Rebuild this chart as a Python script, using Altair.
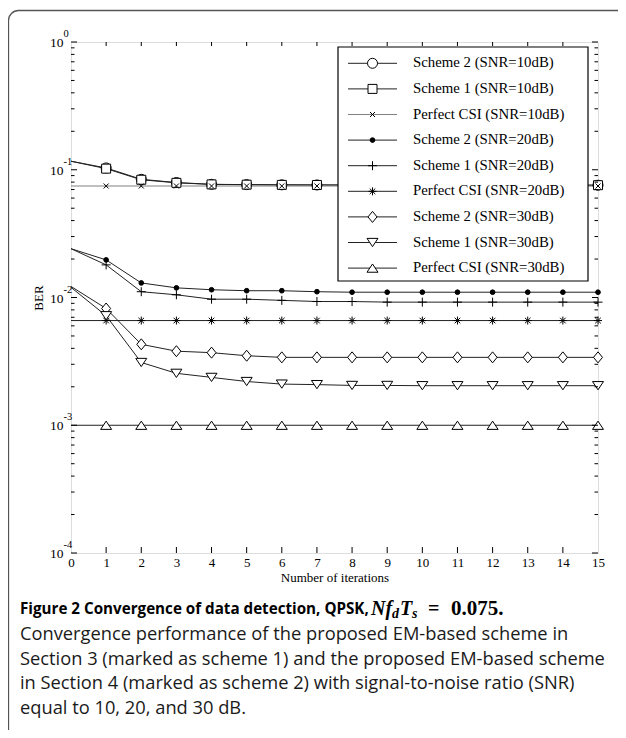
import json
import altair as alt
import pandas as pd

# ---------------- data ----------------
iterations = list(range(16))

series_names = [
    "Scheme 2 (SNR=10dB)", "Scheme 1 (SNR=10dB)", "Perfect CSI (SNR=10dB)",
    "Scheme 2 (SNR=20dB)", "Scheme 1 (SNR=20dB)", "Perfect CSI (SNR=20dB)",
    "Scheme 2 (SNR=30dB)", "Scheme 1 (SNR=30dB)", "Perfect CSI (SNR=30dB)",
]

ber_s2_10 = [0.1166, 0.1033, 0.0842, 0.0794, 0.0769, 0.0765, 0.0762, 0.0760,
             0.0759, 0.0758, 0.0758, 0.0757, 0.0757, 0.0757, 0.0757, 0.0757]
ber_s1_10 = [0.1166, 0.1020, 0.0835, 0.0790, 0.0768, 0.0764, 0.0761, 0.0760,
             0.0759, 0.0758, 0.0758, 0.0757, 0.0757, 0.0757, 0.0757, 0.0757]
ber_csi_10 = [0.0746, 0.0746, 0.0746, 0.0746, 0.0746, 0.0746, 0.0746, 0.0746,
              0.0746, 0.0746, 0.0746, 0.0746, 0.0746, 0.0746, 0.0746, 0.0746]
ber_s2_20 = [0.0241, 0.0197, 0.0130, 0.0119, 0.0115, 0.0113, 0.0113, 0.0111,
             0.0110, 0.0110, 0.0110, 0.0110, 0.0110, 0.0110, 0.0110, 0.0110]
ber_s1_20 = [0.0241, 0.0180, 0.0111, 0.0105, 0.0097, 0.0097, 0.0095, 0.0093,
             0.0093, 0.0092, 0.0092, 0.0092, 0.0092, 0.0092, 0.0092, 0.0092]
ber_csi_20 = [0.0066, 0.0066, 0.0066, 0.0066, 0.0066, 0.0066, 0.0066, 0.0066,
              0.0066, 0.0066, 0.0066, 0.0066, 0.0066, 0.0066, 0.0066, 0.0066]
ber_s2_30 = [0.0122, 0.0082, 0.0043, 0.0038, 0.0037, 0.0035, 0.0034, 0.0034,
             0.0034, 0.0034, 0.0034, 0.0034, 0.0034, 0.0034, 0.0034, 0.0034]
ber_s1_30 = [0.0120, 0.0072, 0.0031, 0.00255, 0.00237, 0.0022, 0.0021, 0.00208,
             0.00205, 0.00205, 0.00204, 0.00204, 0.00204, 0.00204, 0.00204, 0.00204]
ber_csi_30 = [0.0010, 0.0010, 0.0010, 0.0010, 0.0010, 0.0010, 0.0010, 0.0010,
              0.0010, 0.0010, 0.0010, 0.0010, 0.0010, 0.0010, 0.0010, 0.0010]

all_series = [ber_s2_10, ber_s1_10, ber_csi_10, ber_s2_20, ber_s1_20, ber_csi_20,
              ber_s2_30, ber_s1_30, ber_csi_30]

x_tick_values = list(range(1, 15))
y_major_values = [1.0, 0.1, 0.01, 0.001, 0.0001]
y_major_exps = ["0", "-1", "-2", "-3", "-4"]
y_minor_values = [m * 10.0 ** k for k in range(-4, 0) for m in range(2, 10)]

caption_title = "Figure 2 Convergence of data detection, QPSK, "
caption_lines = [
    "Convergence performance of the proposed EM-based scheme in",
    "Section 3 (marked as scheme 1) and the proposed EM-based scheme",
    "in Section 4 (marked as scheme 2) with signal-to-noise ratio (SNR)",
    "equal to 10, 20, and 30 dB.",
]

# ---------------- styles ----------------
SERIF = "Liberation Serif"
SANS = "Open Sans"
W, H = 527, 511

line_colors = ["#222", "#222", "#808080", "#222", "#222", "#222", "#222", "#222", "#222"]
shape_paths = [
    "circle", "square", "M-1,-1L1,1M1,-1L-1,1",
    "circle", "M-1,0H1M0,-1V1",
    "M-1,0H1M0,-1V1M-0.7,-0.7L0.7,0.7M0.7,-0.7L-0.7,0.7",
    "M0,-1.1L0.9,0L0,1.1L-0.9,0Z",
    "M-1,-0.75L1,-0.75L0,0.75Z",
    "M-1,0.75L1,0.75L0,-0.75Z",
]
shape_fills = ["white", "white", "white", "black", "white", "white", "white", "white", "white"]
shape_sizes = [100, 81, 25, 22, 81, 64, 100, 121, 121]
size_expr = "%s[indexof(%s, datum.series)]" % (json.dumps(shape_sizes), json.dumps(series_names))

rows = []
for name, vals in zip(series_names, all_series):
    for it, v in zip(iterations, vals):
        rows.append({"series": name, "iter": it, "ber": v})
df = pd.DataFrame(rows)

xs = alt.Scale(domain=[0, 15], nice=False, zero=False)
ys = alt.Scale(type="log", domain=[1e-4, 1], nice=False)
color_scale = alt.Scale(domain=series_names, range=line_colors)
shape_scale = alt.Scale(domain=series_names, range=shape_paths)
fill_scale = alt.Scale(domain=series_names, range=shape_fills)

X_AXIS = alt.Axis(values=iterations, tickCount=16, ticks=False, domain=False, grid=False,
                  labelFont=SERIF, labelFontSize=13, labelColor="black",
                  labelPadding=3, labelOverlap=False, labelFlush=False,
                  format="d", title="Number of iterations",
                  titleFont=SERIF, titleFontSize=13, titleFontWeight="normal",
                  titleColor="black", titlePadding=2)
Y_AXIS = alt.Axis(labels=False, ticks=False, domain=False, grid=False,
                  title="BER", titleFont=SERIF, titleFontSize=13,
                  titleFontWeight="normal", titleColor="black", titlePadding=26)


def X(field):
    return alt.X(field, scale=xs, axis=X_AXIS, title="Number of iterations")


def Y(field):
    return alt.Y(field, scale=ys, axis=Y_AXIS, title="BER")


one = pd.DataFrame({"a": [0]})

# frame around the whole figure
frame = alt.Chart(one).mark_rect(fill=None, stroke="#555", strokeWidth=1.3, cornerRadius=10).encode(
    x=alt.value(-62.5), x2=alt.value(700), y=alt.value(-31.5), y2=alt.value(900)
)

lines = alt.Chart(df).mark_line(strokeWidth=1).encode(
    x=X("iter:Q"), y=Y("ber:Q"),
    color=alt.Color("series:N", scale=color_scale, legend=None),
    detail="series:N",
)

points = alt.Chart(df).transform_filter("datum.iter >= 1").transform_calculate(
    sz=size_expr
).mark_point(filled=False, strokeWidth=1, opacity=1).encode(
    x=X("iter:Q"), y=Y("ber:Q"),
    shape=alt.Shape("series:N", scale=shape_scale, legend=None),
    fill=alt.Fill("series:N", scale=fill_scale, legend=None),
    size=alt.Size("sz:Q", scale=None, legend=None),
    stroke=alt.value("black"),
)

# inward ticks
xt = pd.DataFrame({"t": x_tick_values})
top_ticks = alt.Chart(xt).mark_rule(color="black", strokeWidth=1).encode(
    x=X("t:Q"), y=alt.value(0), y2=alt.value(4))
bot_ticks = alt.Chart(xt).mark_rule(color="black", strokeWidth=1).encode(
    x=X("t:Q"), y=alt.value(H), y2=alt.value(H - 6))
ymaj = pd.DataFrame({"v": y_major_values, "e": y_major_exps})
ymin = pd.DataFrame({"v": y_minor_values})
left_major = alt.Chart(ymaj).mark_rule(color="black").encode(
    y=Y("v:Q"), x=alt.value(0), x2=alt.value(6))
left_minor = alt.Chart(ymin).mark_rule(color="black").encode(
    y=Y("v:Q"), x=alt.value(0), x2=alt.value(3.5))
right_major = alt.Chart(ymaj).mark_rule(color="black").encode(
    y=Y("v:Q"), x=alt.value(W), x2=alt.value(W - 6))
right_minor = alt.Chart(ymin).mark_rule(color="black").encode(
    y=Y("v:Q"), x=alt.value(W), x2=alt.value(W - 3.5))

# y tick labels 10^k
ylab_base = alt.Chart(ymaj).mark_text(font=SERIF, fontSize=13.5, align="right",
                                      baseline="middle", color="black", dy=1).encode(
    y=Y("v:Q"), x=alt.value(-7.5), text=alt.value("10"))
ylab_exp = alt.Chart(ymaj).mark_text(font=SERIF, fontSize=10.5, align="left",
                                     baseline="middle", color="black", dy=-8).encode(
    y=Y("v:Q"), x=alt.value(-7.5), text="e:N")

# legend
leg = pd.DataFrame({"series": series_names, "row": list(range(9))})
leg_base = alt.Chart(leg).transform_calculate(ly="21.3 + 25.6 * datum.row", sz=size_expr)
leg_box = alt.Chart(one).mark_rect(fill="white", stroke="black", strokeWidth=1.2).encode(
    x=alt.value(267), x2=alt.value(517), y=alt.value(5), y2=alt.value(239))
leg_lines = leg_base.mark_rule(strokeWidth=1).encode(
    y=alt.Y("ly:Q", scale=None), x=alt.value(277), x2=alt.value(326),
    color=alt.Color("series:N", scale=color_scale, legend=None))
leg_pts = leg_base.mark_point(filled=False, strokeWidth=1, opacity=1).encode(
    y=alt.Y("ly:Q", scale=None), x=alt.value(301.5),
    shape=alt.Shape("series:N", scale=shape_scale, legend=None),
    fill=alt.Fill("series:N", scale=fill_scale, legend=None),
    size=alt.Size("sz:Q", scale=None, legend=None),
    stroke=alt.value("black"))
leg_text = leg_base.mark_text(font=SERIF, fontSize=14.8, align="left", baseline="middle",
                              color="black").encode(
    y=alt.Y("ly:Q", scale=None), x=alt.value(342), text="series:N")

# caption
cap_title = alt.Chart(one).mark_text(font=SANS, fontSize=15.2, fontWeight="bold", align="left",
                                     baseline="middle", color="black").encode(
    x=alt.value(-51), y=alt.value(567), text=alt.value(caption_title))
MATH_Y = 567
m1 = alt.Chart(one).mark_text(font=SERIF, fontSize=20, fontWeight="bold", fontStyle="italic",
                              align="left", baseline="middle", color="black").encode(
    x=alt.value(300), y=alt.value(MATH_Y), text=alt.value("Nf"))
m2 = alt.Chart(one).mark_text(font=SERIF, fontSize=14, fontWeight="bold", fontStyle="italic",
                              align="left", baseline="middle", color="black").encode(
    x=alt.value(321), y=alt.value(MATH_Y + 5), text=alt.value("d"))
m3 = alt.Chart(one).mark_text(font=SERIF, fontSize=20, fontWeight="bold", fontStyle="italic",
                              align="left", baseline="middle", color="black").encode(
    x=alt.value(329), y=alt.value(MATH_Y), text=alt.value("T"))
m4 = alt.Chart(one).mark_text(font=SERIF, fontSize=14, fontWeight="bold", fontStyle="italic",
                              align="left", baseline="middle", color="black").encode(
    x=alt.value(341), y=alt.value(MATH_Y + 5), text=alt.value("s"))
m5 = alt.Chart(one).mark_text(font=SERIF, fontSize=20, fontWeight="bold",
                              align="left", baseline="middle", color="black").encode(
    x=alt.value(357), y=alt.value(MATH_Y), text=alt.value("="))
m6 = alt.Chart(one).mark_text(font=SERIF, fontSize=21, fontWeight="bold",
                              align="left", baseline="middle", color="black").encode(
    x=alt.value(380), y=alt.value(MATH_Y), text=alt.value("0.075."))
cap_df = pd.DataFrame({"txt": caption_lines, "row": list(range(4))})
cap_body = alt.Chart(cap_df).transform_calculate(cy="593 + 24.5 * datum.row").mark_text(
    font=SANS, fontSize=18.3, align="left", baseline="middle", color="#1a1a1a").encode(
    x=alt.value(-51), y=alt.Y("cy:Q", scale=None), text="txt:N")

chart = alt.layer(
    frame, lines, points, top_ticks, bot_ticks, left_major, left_minor, right_major, right_minor,
    ylab_base, ylab_exp, leg_box, leg_lines, leg_pts, leg_text,
    cap_title, m1, m2, m3, m4, m5, m6, cap_body,
).properties(
    width=W, height=H,
    autosize=alt.AutoSizeParams(type="none"),
    padding={"left": 63, "top": 34, "right": 20, "bottom": 177},
).configure_view(stroke="black", strokeWidth=1.2).configure(background="white")

chart.save("out.html", embed_options={"renderer": "svg", "actions": False})
